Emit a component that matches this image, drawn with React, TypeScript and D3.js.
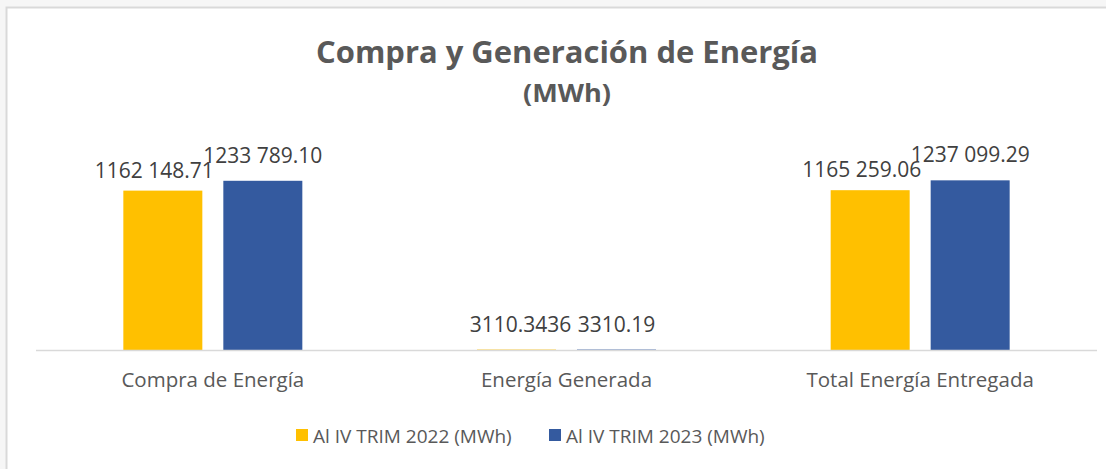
import React from "react";
import * as d3 from "d3";

const categories = ["Compra de Energía", "Energía Generada", "Total Energía Entregada"];
const seriesNames = ["Al IV TRIM 2022 (MWh)", "Al IV TRIM 2023 (MWh)"];
const values2022 = [1162148.71, 3110.3436, 1165259.06];
const values2023 = [1233789.1, 3310.19, 1237099.29];
const labels2022 = ["1162 148.71", "3110.3436", "1165 259.06"];
const labels2023 = ["1233 789.10", "3310.19", "1237 099.29"];
const colors = ["#FFC000", "#345A9F"];

const W = 1106;
const H = 469;

export default function App() {
  const left = 36;
  const right = 1097;
  const baseY = 350;
  const x0 = d3.scaleBand<string>().domain(categories).range([left, right]).paddingInner(0).paddingOuter(0);
  const y = d3.scaleLinear().domain([0, 1400000]).range([baseY, 158]);
  const barW = 79;
  const gap = 21;
  const series = [values2022, values2023];
  const labels = [labels2022, labels2023];
  const font = "'Open Sans', sans-serif";
  const txt = "#595959";

  // label nudges (Excel overlap avoidance)
  const nudge = (i: number, j: number) => {
    if (i === 1) return { dx: j === 0 ? 4 : 0, dy: -18 };
    if (j === 0) return { dx: -8.5, dy: -13 };
    return { dx: 0, dy: -18 };
  };

  return (
    <svg width={W} height={H} style={{ position: "absolute", left: 0, top: 0, background: "#f6f6f6" }}>
      <rect x={6.5} y={7.5} width={W} height={H} fill="#ffffff" stroke="#d9d9d9" strokeWidth={2} />
      <text x={567} y={63} textAnchor="middle" fontFamily={font} fontWeight={700} fontSize={31} fill={txt}
        textLength={502} lengthAdjust="spacingAndGlyphs">Compra y Generación de Energía</text>
      <text x={567} y={102} textAnchor="middle" fontFamily={font} fontWeight={700} fontSize={25} fill={txt}
        textLength={88} lengthAdjust="spacingAndGlyphs">(MWh)</text>
      {categories.map((c, i) => {
        const cx = (x0(c) as number) + x0.bandwidth() / 2;
        return (
          <g key={c}>
            {series.map((s, j) => {
              const bx = j === 0 ? cx - gap / 2 - barW : cx + gap / 2;
              const by = y(s[i]);
              const n = nudge(i, j);
              return (
                <g key={j}>
                  <rect x={bx} y={by} width={barW} height={baseY - by} fill={colors[j]} />
                  <text x={bx + barW / 2 + n.dx} y={by + n.dy} textAnchor="middle" fontFamily={font}
                    fontSize={21} fill="#404040">{labels[j][i]}</text>
                </g>
              );
            })}
            <text x={cx} y={387} textAnchor="middle" fontFamily={font} fontSize={20.5} fill={txt}>{c}</text>
          </g>
        );
      })}
      <line x1={left} x2={right} y1={baseY + 0.5} y2={baseY + 0.5} stroke="#d9d9d9" strokeWidth={1.5} />
      {seriesNames.map((n, j) => {
        const lx = j === 0 ? 296 : 549;
        return (
          <g key={n}>
            <rect x={lx} y={429} width={12} height={12} fill={colors[j]} />
            <text x={lx + 17} y={443} fontFamily={font} fontSize={19} fill={txt}>{n}</text>
          </g>
        );
      })}
    </svg>
  );
}
